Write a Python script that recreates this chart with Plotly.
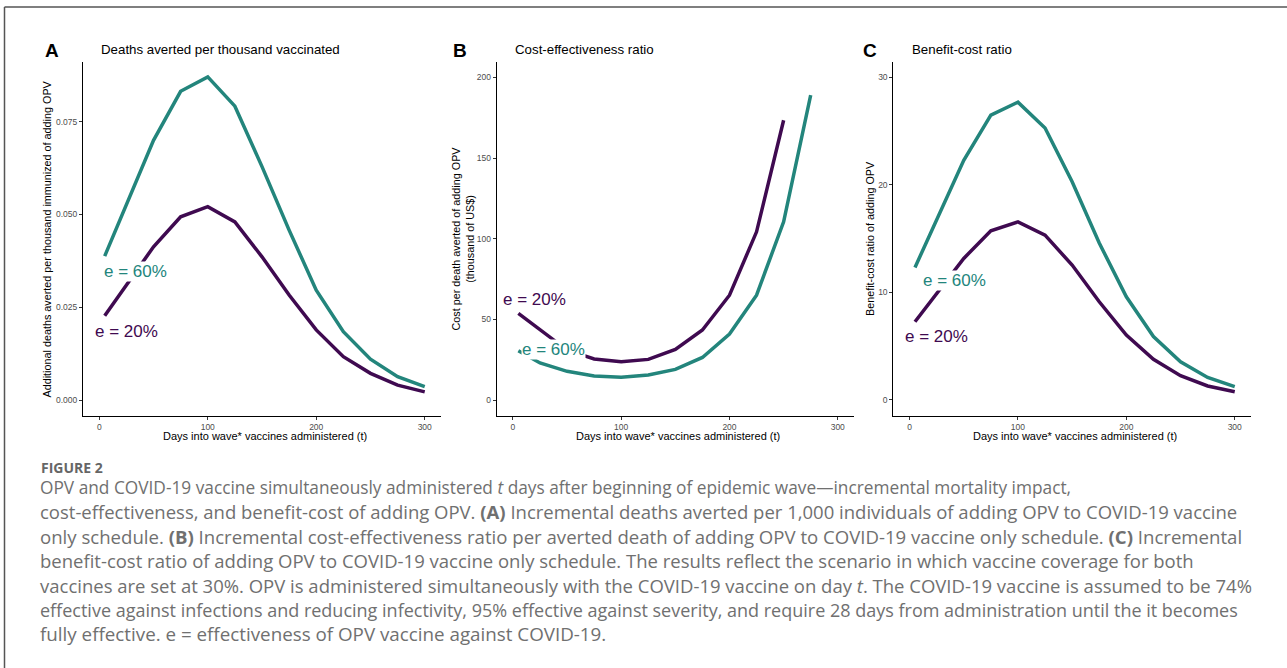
import plotly.graph_objects as go

W, H = 1287, 668

days = [5, 25, 50, 75, 100, 125, 150, 175, 200, 225, 250, 275, 300]

# Panel A: additional deaths averted per thousand immunized
deaths_e60 = [0.0388, 0.0525, 0.0700, 0.0832, 0.0871, 0.0792, 0.0629, 0.0458, 0.0296, 0.0184, 0.0110, 0.0063, 0.0036]
deaths_e20 = [0.0227, 0.0309, 0.0413, 0.0494, 0.0521, 0.0480, 0.0386, 0.0283, 0.0189, 0.0117, 0.0072, 0.0040, 0.0022]

# Panel B: cost per death averted (thousand US$)
cer_e60 = [30.5, 23.0, 17.8, 14.9, 14.1, 15.5, 19.0, 26.4, 40.9, 65.0, 110.5, 189.0, None]
cer_e20 = [53.7, 43.5, 31.0, 25.5, 23.7, 25.2, 31.4, 43.4, 65.0, 104.3, 173.5, None, None]

# Panel C: benefit-cost ratio
bcr_e60 = [12.33, 16.8, 22.3, 26.5, 27.7, 25.3, 20.3, 14.6, 9.6, 5.9, 3.56, 2.1, 1.24]
bcr_e20 = [7.28, 9.9, 13.17, 15.73, 16.57, 15.33, 12.55, 9.14, 6.04, 3.78, 2.26, 1.30, 0.77]

x_ticks = [0, 100, 200, 300]
a_ticks = [0.0, 0.025, 0.05, 0.075]
b_ticks = [0, 50, 100, 150, 200]
c_ticks = [0, 10, 20, 30]

series_labels = ["e = 60%", "e = 20%"]
panel_letters = ["A", "B", "C"]
panel_titles = ["Deaths averted per thousand vaccinated", "Cost-effectiveness ratio", "Benefit-cost ratio"]
y_titles = ["Additional deaths averted per thousand immunized of adding OPV",
            "Cost per death averted of adding OPV<br>(thousand of US$)",
            "Benefit-cost ratio of adding OPV"]
x_title = "Days into wave* vaccines administered (t)"

TEAL = "#23857C"
PURP = "#3F0A50"
FONT = "Liberation Sans, Arial, sans-serif"

def px(x):
    return x / W

def py(y):
    return 1 - y / H

fig = go.Figure()

panels = [
    dict(xd=(83, 441), yr=(-0.0043, 0.0911), yt=a_ticks, fmt=".3f",
         s60=deaths_e60, s20=deaths_e20,
         l60=(33.5, 0.0346), l20=(25.2, 0.0184), ytx=46.5),
    dict(xd=(496.7, 854), yr=(-9.9, 209.6), yt=b_ticks, fmt="d",
         s60=cer_e60, s20=cer_e20,
         l60=(37.2, 31.4), l20=(20.3, 62.4), ytx=462.5),
    dict(xd=(893.3, 1251), yr=(-1.49, 31.44), yt=c_ticks, fmt="d",
         s60=bcr_e60, s20=bcr_e20,
         l60=(41.0, 11.15), l20=(24.4, 5.95), ytx=870),
]

Y_TOP, Y_BOT = 62, 416
annotations = []
layout_axes = {}
for i, p in enumerate(panels):
    n = "" if i == 0 else str(i + 1)
    xa, ya = "x" + n, "y" + n
    fig.add_trace(go.Scatter(x=days, y=p["s20"], mode="lines", xaxis=xa, yaxis=ya,
                             line=dict(color=PURP, width=3.5), showlegend=False,
                             connectgaps=False))
    fig.add_trace(go.Scatter(x=days, y=p["s60"], mode="lines", xaxis=xa, yaxis=ya,
                             line=dict(color=TEAL, width=3.5), showlegend=False,
                             connectgaps=False))
    common = dict(showline=True, linecolor="black", linewidth=1, ticks="outside",
                  ticklen=3, tickcolor="#333333", tickwidth=1, showgrid=False,
                  zeroline=False, tickfont=dict(family=FONT, size=8.5, color="#4D4D4D"))
    layout_axes["xaxis" + n] = dict(domain=[px(p["xd"][0]), px(p["xd"][1])], range=[-15, 315],
                                    tickvals=x_ticks, anchor=ya, **common)
    layout_axes["yaxis" + n] = dict(domain=[py(Y_BOT), py(Y_TOP)], range=list(p["yr"]),
                                    tickvals=p["yt"], tickformat=p["fmt"], anchor=xa, **common)
    # series labels
    for lab, pos, col in [(series_labels[0], p["l60"], TEAL), (series_labels[1], p["l20"], PURP)]:
        annotations.append(dict(x=pos[0], y=pos[1], xref=xa, yref=ya, text=lab, showarrow=False,
                                xanchor="center", yanchor="middle", bgcolor="white", borderpad=0,
                                font=dict(family=FONT, size=17, color=col)))
    # letter and title
    letter_x = [52, 459.5, 869.5][i]
    title_x = [99, 512.7, 910][i]
    annotations.append(dict(x=px(letter_x), y=py(51), xref="paper", yref="paper", text="<b>%s</b>" % panel_letters[i],
                            showarrow=False, xanchor="center", yanchor="middle",
                            font=dict(family=FONT, size=19, color="black")))
    annotations.append(dict(x=px(title_x), y=py(49), xref="paper", yref="paper", text=panel_titles[i],
                            showarrow=False, xanchor="left", yanchor="middle",
                            font=dict(family=FONT, size=13.3, color="black")))
    # axis titles
    annotations.append(dict(x=px(p["ytx"]), y=py((Y_TOP + Y_BOT) / 2), xref="paper", yref="paper",
                            text=y_titles[i], textangle=-90, showarrow=False,
                            xanchor="center", yanchor="middle",
                            font=dict(family=FONT, size=10.8, color="black")))
    annotations.append(dict(x=px((p["xd"][0] + p["xd"][1]) / 2 + 3), y=py(436), xref="paper", yref="paper",
                            text=x_title, showarrow=False, xanchor="center", yanchor="middle",
                            font=dict(family=FONT, size=11, color="black")))

CAP_FONT = "Open Sans, Noto Sans, sans-serif"
CAP_COL = "#707070"
caption_lines = [
    "OPV and COVID-19 vaccine simultaneously administered <i>t</i> days after beginning of epidemic wave\u2014incremental mortality impact,",
    "cost-effectiveness, and benefit-cost of adding OPV. <b>(A)</b> Incremental deaths averted per 1,000 individuals of adding OPV to COVID-19 vaccine",
    "only schedule. <b>(B)</b> Incremental cost-effectiveness ratio per averted death of adding OPV to COVID-19 vaccine only schedule. <b>(C)</b> Incremental",
    "benefit-cost ratio of adding OPV to COVID-19 vaccine only schedule. The results reflect the scenario in which vaccine coverage for both",
    "vaccines are set at 30%. OPV is administered simultaneously with the COVID-19 vaccine on day <i>t</i>. The COVID-19 vaccine is assumed to be 74%",
    "effective against infections and reducing infectivity, 95% effective against severity, and require 28 days from administration until the it becomes",
    "fully effective. e = effectiveness of OPV vaccine against COVID-19.",
]
caption_sizes = [17.3, 18.5, 18.6, 18.5, 18.5, 18.0, 18.8]
annotations.append(dict(x=px(39), y=py(467), xref="paper", yref="paper", text="<b>FIGURE 2</b>",
                        showarrow=False, xanchor="left", yanchor="middle",
                        font=dict(family=CAP_FONT, size=14, color="#666666")))
for k, line in enumerate(caption_lines):
    annotations.append(dict(x=px(38), y=py(487.5 + k * 24.4), xref="paper", yref="paper", text=line,
                            showarrow=False, xanchor="left", yanchor="middle",
                            font=dict(family=CAP_FONT, size=caption_sizes[k], color=CAP_COL)))

shapes = [
    dict(type="line", xref="paper", yref="paper", x0=px(4.5), x1=1, y0=py(7), y1=py(7),
         line=dict(color="#555555", width=1.5)),
    dict(type="line", xref="paper", yref="paper", x0=px(4.5), x1=px(4.5), y0=0, y1=py(7),
         line=dict(color="#555555", width=1.5)),
]

fig.update_layout(width=W, height=H, margin=dict(l=0, r=0, t=0, b=0),
                  paper_bgcolor="white", plot_bgcolor="white",
                  annotations=annotations, shapes=shapes, **layout_axes)

fig.write_html("out.html", config={"displayModeBar": False},
               post_script="document.body.style.margin='0';document.body.style.padding='0';document.body.style.overflow='hidden';")
